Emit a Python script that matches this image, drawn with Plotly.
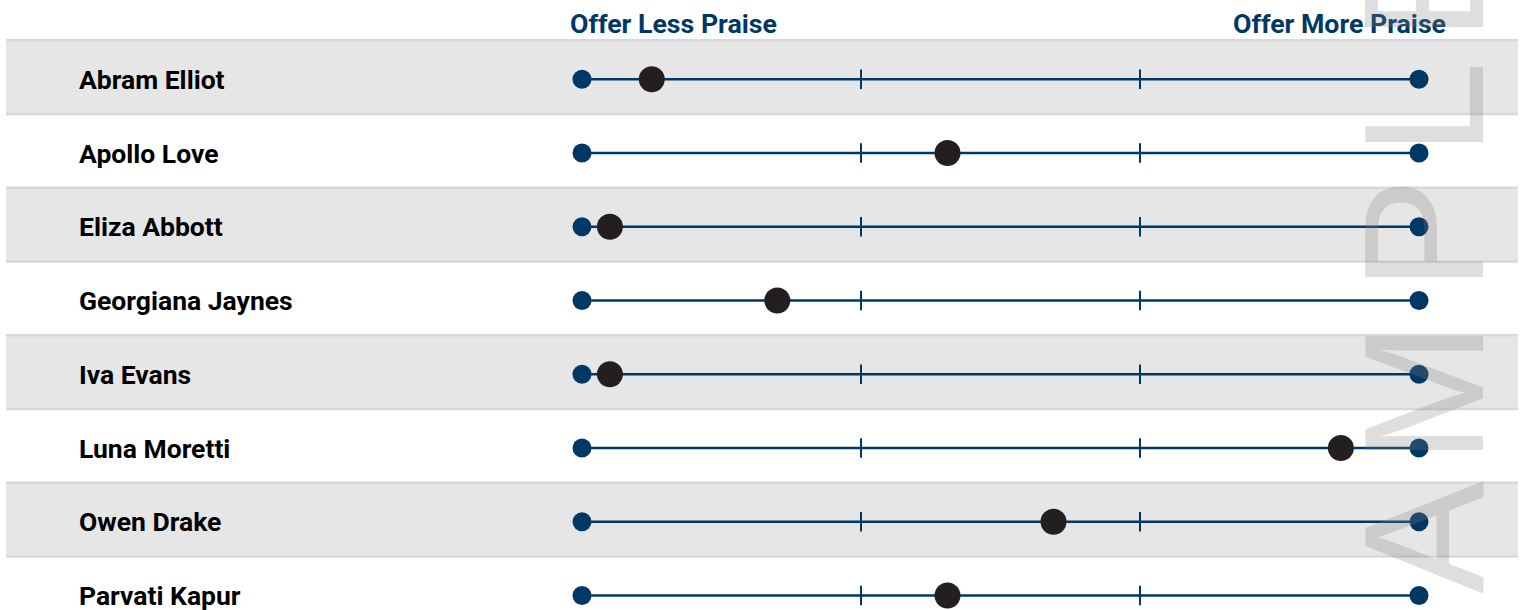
import plotly.graph_objects as go

# Praise scale: 1 = offer less praise, 4 = offer more praise
names = ["Abram Elliot", "Apollo Love", "Eliza Abbott", "Georgiana Jaynes",
         "Iva Evans", "Luna Moretti", "Owen Drake", "Parvati Kapur"]
scores = [1.25, 2.31, 1.10, 1.70, 1.10, 3.72, 2.69, 2.31]
scale_min, scale_max = 1, 4
scale_ticks = [2, 3]
header_left = "Offer Less Praise"
header_right = "Offer More Praise"
watermark = "SAMPLE"

NAVY = "#003865"
DOT = "#231f20"
BAND = "#e6e6e6"
BAND_EDGE = "#d8d8d8"
FONT = "Roboto"

W, H = 1525, 610
px_per_unit = 279.0
x_left_px = 582.0
row_px = 73.75
row0_px = 79.3

x_range = [scale_min - x_left_px / px_per_unit,
           scale_min + (W - x_left_px) / px_per_unit]
y_range = [(H - row0_px) / row_px, -row0_px / row_px]

rows = list(range(len(names)))

fig = go.Figure()

# alternating row bands with a slightly darker rule on top and bottom
shapes = []
bx0, bx1 = 6 / W, 1518 / W
for i in rows:
    if i % 2 == 0:
        top, bot = i - 0.53, i + 0.47
        shapes.append(dict(type="rect", xref="paper", yref="y",
                           x0=bx0, x1=bx1, y0=top, y1=bot,
                           fillcolor=BAND, line=dict(width=0), layer="below"))
        for yy in (top, bot):
            shapes.append(dict(type="line", xref="paper", yref="y",
                               x0=bx0, x1=bx1, y0=yy, y1=yy,
                               line=dict(color=BAND_EDGE, width=2.5),
                               layer="below"))

# scale lines
lx, ly = [], []
for i in rows:
    lx += [scale_min, scale_max, None]
    ly += [i, i, None]
fig.add_trace(go.Scatter(x=lx, y=ly, mode="lines",
                         line=dict(color=NAVY, width=2.5),
                         hoverinfo="skip", showlegend=False))

# inner tick marks
tx, ty = [], []
for i in rows:
    for t in scale_ticks:
        tx.append(t)
        ty.append(i)
fig.add_trace(go.Scatter(x=tx, y=ty, mode="markers",
                         marker=dict(symbol="line-ns", size=14,
                                     line=dict(color=NAVY, width=2)),
                         hoverinfo="skip", showlegend=False))

# end points
ex, ey = [], []
for i in rows:
    ex += [scale_min, scale_max]
    ey += [i, i]
fig.add_trace(go.Scatter(x=ex, y=ey, mode="markers",
                         marker=dict(color=NAVY, size=19),
                         hoverinfo="skip", showlegend=False))

# individual scores
fig.add_trace(go.Scatter(x=scores, y=rows, mode="markers",
                         marker=dict(color=DOT, size=26),
                         text=names, hovertemplate="%{text}: %{x}<extra></extra>",
                         showlegend=False))

annotations = []
for i, n in zip(rows, names):
    annotations.append(dict(text="<b>" + n + "</b>", xref="paper", yref="y",
                            x=77 / W, y=i, xanchor="left", yanchor="middle",
                            showarrow=False,
                            font=dict(family=FONT, size=26.5, color="#000000")))

annotations.append(dict(text="<b>" + header_left + "</b>", xref="paper", yref="paper",
                        x=568 / W, y=1 - 24 / H, xanchor="left", yanchor="middle",
                        showarrow=False, font=dict(family=FONT, size=26.7, color=NAVY)))
annotations.append(dict(text="<b>" + header_right + "</b>", xref="paper", yref="paper",
                        x=1448 / W, y=1 - 24 / H, xanchor="right", yanchor="middle",
                        showarrow=False, font=dict(family=FONT, size=26.7, color=NAVY)))

# vertical watermark, set letter by letter (reads bottom to top)
wm_centers_px = [690, 537, 393, 235, 109, -15]
for ch, cy in zip(watermark, wm_centers_px):
    annotations.append(dict(text=ch, xref="paper", yref="paper",
                            x=1424 / W, y=1 - cy / H,
                            xanchor="center", yanchor="middle",
                            textangle=-90, showarrow=False,
                            font=dict(family="Liberation Sans", size=170,
                                      color="rgba(126,126,126,0.26)")))

fig.update_layout(
    width=W, height=H,
    margin=dict(l=0, r=0, t=0, b=0),
    paper_bgcolor="white", plot_bgcolor="white",
    xaxis=dict(range=x_range, visible=False, fixedrange=True),
    yaxis=dict(range=y_range, visible=False, fixedrange=True),
    shapes=shapes, annotations=annotations,
)

fig.write_html("out.html")
